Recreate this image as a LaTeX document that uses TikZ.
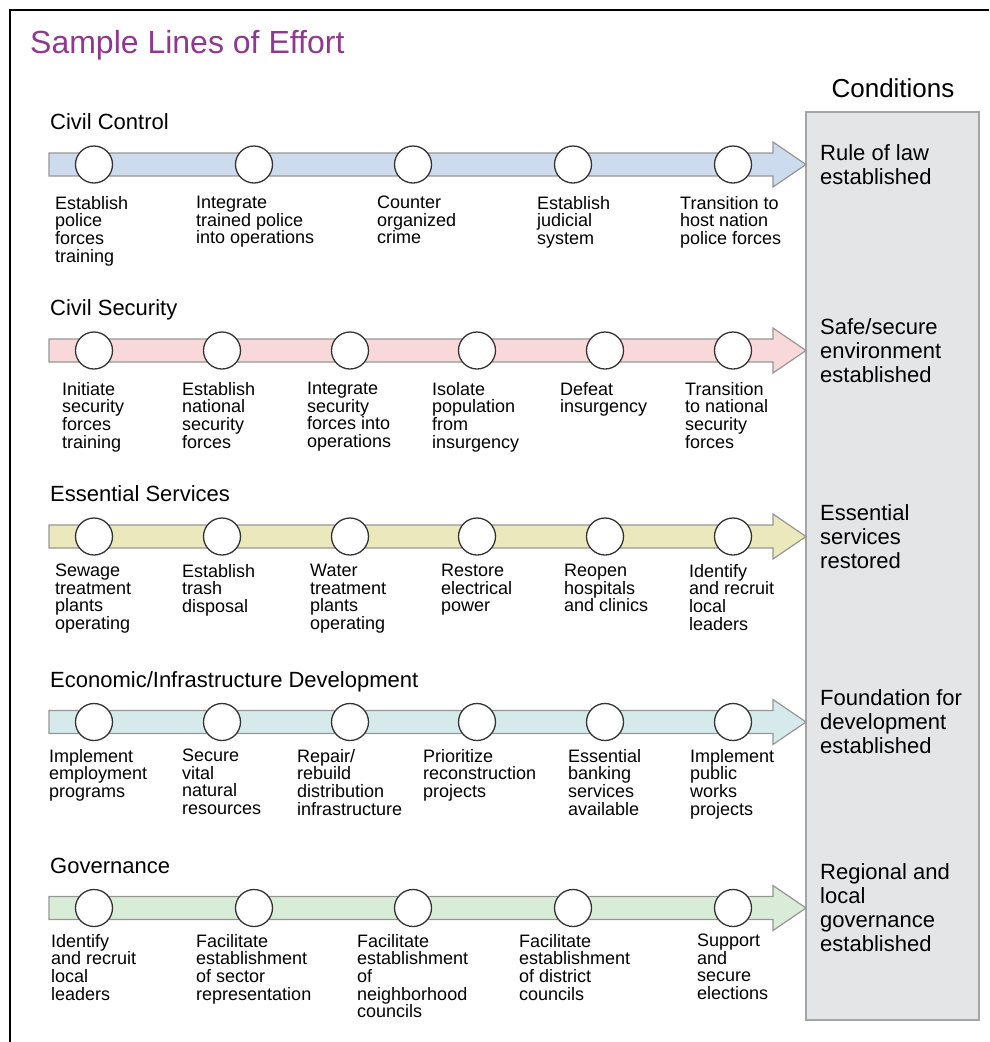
\documentclass[tikz,border=0pt]{standalone}
\usepackage{fontspec}
\setmainfont{Liberation Sans}

\definecolor{loepurple}{RGB}{142,56,142}
\definecolor{loeblue}{RGB}{205,219,238}
\definecolor{loepink}{RGB}{249,216,218}
\definecolor{loeyellow}{RGB}{235,232,188}
\definecolor{loecyan}{RGB}{215,234,235}
\definecolor{loegreen}{RGB}{217,236,215}
\definecolor{loegray}{RGB}{150,150,150}
\definecolor{boxfill}{RGB}{228,229,231}
\definecolor{boxgray}{RGB}{165,165,165}

\begin{document}
\begin{tikzpicture}
        [%%%%%%%%%%%%%%%%%%%%%%%%%%%%%%
            x=1pt, y=-1pt,
            effort/.style={draw=loegray, line width=1.2pt},
            milestone/.style={circle, draw=black!80, fill=white, line width=1.3pt, minimum size=37pt, inner sep=0pt},
            task/.style={anchor=north west, align=left, inner sep=0pt, font=\fontsize{18}{17.6}\selectfont},
            lane/.style={anchor=base west, inner sep=0pt, font=\fontsize{22}{26}\selectfont},
            condition/.style={anchor=west, align=left, inner sep=0pt, font=\fontsize{22}{24}\selectfont},
        ]%%%%%%%%%%%%%%%%%%%%%%%%%%%%%%

        \useasboundingbox (0,0) rectangle (989,1042);
        \draw[line width=2.5pt] (10,1042) -- (10,10) -- (989,10);

        \node[anchor=base west, inner sep=0pt, text=loepurple, font=\fontsize{32}{36}\selectfont] (title) at (30,53) {Sample Lines of Effort};
        \node[anchor=base, inner sep=0pt, font=\fontsize{26}{30}\selectfont] (conditions) at (893,97) {Conditions};
        \node[draw=boxgray, fill=boxfill, line width=1.2pt, minimum width=173pt, minimum height=908pt] (cond) at (892.5,566) {};

        % arrows and lane names
        \foreach \r/\y/\c/\name in {1/164.5/loeblue/Civil Control, 2/350.5/loepink/Civil Security, 3/536.5/loeyellow/Essential Services, 4/722/loecyan/{Economic/Infrastructure Development}, 5/908/loegreen/Governance}{
            \draw[effort, fill=\c] (49,\y-11.5) -- (773,\y-11.5) -- (773,\y-22.5) -- (806,\y) -- (773,\y+22.5) -- (773,\y+11.5) -- (49,\y+11.5) -- cycle;
            \node[lane] (lane\r) at (50,\y-35) {\name};
        }

        \foreach \r/\y in {1/164.5, 5/908}{
            \foreach \x [count=\i] in {94,254,413,573,733}{
                \node[milestone] (m\r-\i) at (\x,\y) { };
            }
        }
        \foreach \r/\y in {2/350.5, 3/536.5, 4/722}{
            \foreach \x [count=\i] in {94,222,350,477,605,733}{
                \node[milestone] (m\r-\i) at (\x,\y) { };
            }
        }

        % tasks under each line
        \foreach \x/\txt [count=\i] in {55/{Establish\\police\\forces\\training}, 196/{Integrate\\trained police\\into operations}, 377/{Counter\\organized\\crime}, 537/{Establish\\judicial\\system}, 680/{Transition to\\host nation\\police forces}}{
            \node[task] (t1-\i) at (\x,196) {\txt};
        }
        \foreach \x/\txt [count=\i] in {62/{Initiate\\security\\forces\\training}, 182/{Establish\\national\\security\\forces}, 307/{Integrate\\security\\forces into\\operations}, 432/{Isolate\\population\\from\\insurgency}, 560/{Defeat\\insurgency}, 685/{Transition\\to national\\security\\forces}}{
            \node[task] (t2-\i) at (\x,382) {\txt};
        }
        \foreach \x/\txt [count=\i] in {55/{Sewage\\treatment\\plants\\operating}, 182/{Establish\\trash\\disposal}, 310/{Water\\treatment\\plants\\operating}, 441/{Restore\\electrical\\power}, 564/{Reopen\\hospitals\\and clinics}, 689/{Identify\\and recruit\\local\\leaders}}{
            \node[task] (t3-\i) at (\x,564) {\txt};
        }
        \foreach \x/\txt [count=\i] in {49/{Implement\\employment\\programs}, 182/{Secure\\vital\\natural\\resources}, 297/{Repair/\\rebuild\\distribution\\infrastructure}, 423/{Prioritize\\reconstruction\\projects}, 568/{Essential\\banking\\services\\available}, 690/{Implement\\public\\works\\projects}}{
            \node[task] (t4-\i) at (\x,749) {\txt};
        }
        \foreach \x/\txt [count=\i] in {51/{Identify\\and recruit\\local\\leaders}, 196/{Facilitate\\establishment\\of sector\\representation}, 357/{Facilitate\\establishment\\of\\neighborhood\\councils}, 519/{Facilitate\\establishment\\of district\\councils}, 697/{Support\\and\\secure\\elections}}{
            \node[task] (t5-\i) at (\x,934) {\txt};
        }

        % conditions reached at the end of each line
        \foreach \r/\y/\txt in {1/164.5/{Rule of law\\established}, 2/350.5/{Safe/secure\\environment\\established}, 3/536.5/{Essential\\services\\restored}, 4/722/{Foundation for\\development\\established}, 5/908/{Regional and\\local\\governance\\established}}{
            \node[condition] (c\r) at (820,\y) {\txt};
        }
\end{tikzpicture}
\end{document}
